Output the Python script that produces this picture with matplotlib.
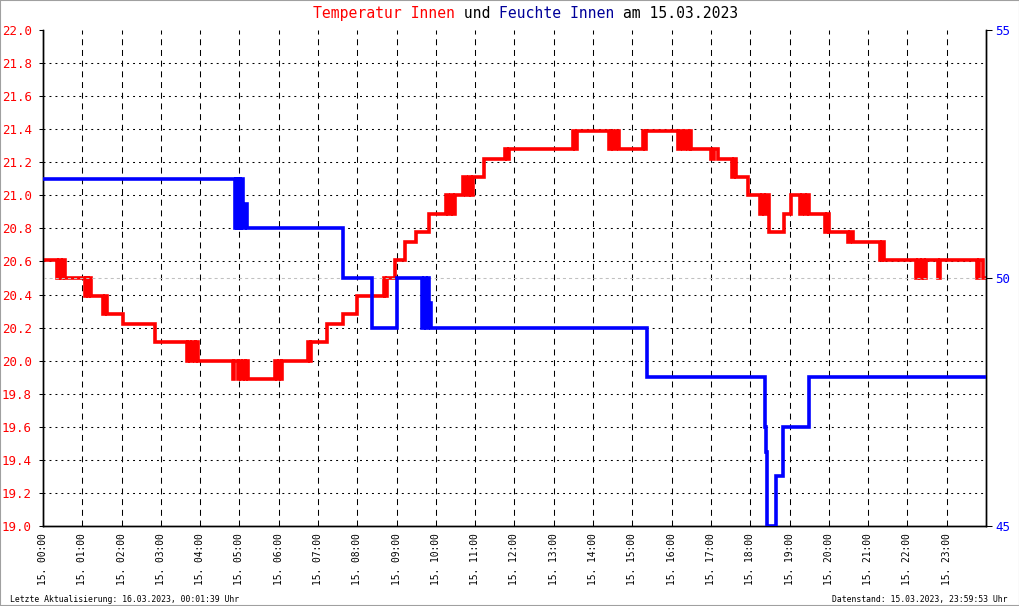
import numpy as np
import matplotlib
matplotlib.use("Agg")
import matplotlib.pyplot as plt
from matplotlib.patches import Rectangle

plt.rcParams['font.family'] = ['DejaVu Sans Mono']
plt.rcParams['lines.scale_dashes'] = False

# Temperatur Innen (step data, time of change -> new value)
temp_times = ["00:00", "00:21", "00:24", "00:27", "00:30", "00:33",
              "01:04", "01:06", "01:09", "01:11", "01:13",
              "01:31", "01:34", "01:37", "02:02", "02:51",
              "03:40", "03:42", "03:45", "03:48", "03:52", "03:54", "03:56",
              "04:50", "04:51", "04:58", "05:00", "05:03", "05:05", "05:08", "05:10", "05:13",
              "05:55", "05:57", "06:00", "06:03", "06:05",
              "06:45", "06:48", "06:50", "07:14", "07:38", "08:00",
              "08:40", "08:42", "08:45", "08:58", "09:13", "09:30", "09:49",
              "10:15", "10:19", "10:23", "10:26", "10:29",
              "10:42", "10:46", "10:50", "10:53", "10:57",
              "11:14", "11:46", "11:49", "11:52",
              "13:30", "13:33", "13:36",
              "14:24", "14:27", "14:31", "14:35", "14:39",
              "15:16", "15:19", "15:21",
              "16:09", "16:13", "16:17", "16:21", "16:25", "16:28", "16:30",
              "17:00", "17:05", "17:10", "17:32", "17:35", "17:38", "17:57",
              "18:15", "18:18", "18:21", "18:24", "18:28", "18:52", "19:02",
              "19:16", "19:19", "19:23", "19:26", "19:29",
              "19:54", "19:57", "20:00", "20:30", "20:33", "20:37",
              "21:18", "21:21", "21:24",
              "22:13", "22:16", "22:19", "22:22", "22:26", "22:29",
              "22:46", "22:49", "23:46", "23:49", "23:55", "24:00"]
temp_vals = [20.61, 20.50, 20.61, 20.50, 20.61, 20.50,
             20.39, 20.50, 20.39, 20.50, 20.39,
             20.28, 20.39, 20.28, 20.22, 20.11,
             20.00, 20.11, 20.00, 20.11, 20.00, 20.11, 20.00,
             19.89, 20.00, 19.89, 20.00, 19.89, 20.00, 19.89, 20.00, 19.89,
             20.00, 19.89, 20.00, 19.89, 20.00,
             20.11, 20.00, 20.11, 20.22, 20.28, 20.39,
             20.50, 20.39, 20.50, 20.61, 20.72, 20.78, 20.89,
             21.00, 20.89, 21.00, 20.89, 21.00,
             21.11, 21.00, 21.11, 21.00, 21.11,
             21.22, 21.28, 21.22, 21.28,
             21.39, 21.28, 21.39,
             21.28, 21.39, 21.28, 21.39, 21.28,
             21.39, 21.28, 21.39,
             21.28, 21.39, 21.28, 21.39, 21.28, 21.39, 21.28,
             21.22, 21.28, 21.22, 21.11, 21.22, 21.11, 21.00,
             20.89, 21.00, 20.89, 21.00, 20.78, 20.89, 21.00,
             20.89, 21.00, 20.89, 21.00, 20.89,
             20.78, 20.89, 20.78, 20.72, 20.78, 20.72,
             20.61, 20.72, 20.61,
             20.50, 20.61, 20.50, 20.61, 20.50, 20.61,
             20.50, 20.61, 20.50, 20.61, 20.50, 20.50]

# Feuchte Innen
hum_times = ["00:00", "04:53", "04:55", "04:57", "04:59", "05:01", "05:03", "05:05", "05:08", "05:11",
             "07:38", "08:23", "09:01",
             "09:39", "09:42", "09:45", "09:48", "09:50", "09:52",
             "15:22", "18:22", "18:24", "18:25", "18:26", "18:39", "18:50", "19:29", "24:00"]
hum_vals = [52, 51, 52, 51, 52, 51, 52, 51, 51.5, 51,
            50, 49, 50,
            49, 50, 49, 50, 49.5, 49,
            48, 47, 46.5, 45.5, 45, 46, 47, 48, 48]

hour_labels = ["15. %02d:00" % h for h in range(24)]


def to_hours(t):
    hh, mm = t.split(":")
    return int(hh) + int(mm) / 60.0


W, H = 1020, 606
fig = plt.figure(figsize=(W / 100, H / 100), dpi=100)
ax = fig.add_axes([43 / W, 1 - 526 / H, (986 - 43) / W, (526 - 30) / H])
ax2 = ax.twinx()

ax.set_xlim(0, 24)
ax.set_ylim(19.0, 22.0)
ax2.set_ylim(45, 55)

# grid
dash = (0, (4.3, 3.4))
dots = (0, (1.4, 2.9))
for h in range(1, 24):
    ax.axvline(h, color='black', lw=0.75, linestyle=dash, zorder=1)
for v in np.arange(19.2, 21.81, 0.2):
    ax.axhline(v, color='black', lw=0.75, linestyle=dots, zorder=1)
ax2.axhline(50, color='#c0c0c0', lw=0.75, linestyle=(0, (2.2, 2.2)), zorder=1)

t_temp = [to_hours(t) for t in temp_times]
t_hum = [to_hours(t) for t in hum_times]
ax.plot(t_temp, temp_vals, drawstyle='steps-post', color='#ff0000', lw=2.6,
        solid_joinstyle='miter', solid_capstyle='butt', zorder=3)
ax2.plot(t_hum, hum_vals, drawstyle='steps-post', color='#0000ff', lw=2.6,
         solid_joinstyle='miter', solid_capstyle='butt', zorder=3)

# ticks
ax.set_xticks(range(24))
ax.set_xticklabels(hour_labels, rotation=90, fontsize=6.9, va='top', ha='center')
ax.tick_params(axis='x', length=0, pad=5)
ax.set_yticks(np.arange(19.0, 22.01, 0.2))
ax.set_yticklabels(["%.1f" % v for v in np.arange(19.0, 22.01, 0.2)])
ax.tick_params(axis='y', colors='black', labelcolor='#ff0000', labelsize=9,
               length=3, width=0.75, pad=5)
ax2.set_yticks([45, 50, 55])
ax2.tick_params(axis='y', colors='black', labelcolor='#0000ff', labelsize=9,
                length=4, width=0.75, pad=2.5)

for a in (ax, ax2):
    a.spines['top'].set_visible(False)
    for s in ('left', 'right', 'bottom'):
        a.spines[s].set_linewidth(1.0)
        a.spines[s].set_color('black')

# title in several colours
fs = 10.6
cw = 0.602 * fs * 100 / 72
parts = [("Temperatur Innen", '#ff0000'), (" und ", 'black'),
         ("Feuchte Innen", '#000099'), (" am 15.03.2023", 'black')]
x0 = 313
n = 0
for txt, col in parts:
    fig.text((x0 + n * cw) / W, 1 - 18 / H, txt, color=col, fontsize=fs,
             ha='left', va='baseline')
    n += len(txt)

fig.text(10 / W, 1 - 602 / H, "Letzte Aktualisierung: 16.03.2023, 00:01:39 Uhr",
         fontsize=5.9, ha='left', va='baseline')
fig.text(1008 / W, 1 - 602 / H, "Datenstand: 15.03.2023, 23:59:53 Uhr",
         fontsize=5.9, ha='right', va='baseline')

fig.patches.append(Rectangle((0, 0), 1, 1, transform=fig.transFigure, fill=False,
                             edgecolor='#a0a0a0', lw=1.5))

fig.savefig("out.png", dpi=100)
